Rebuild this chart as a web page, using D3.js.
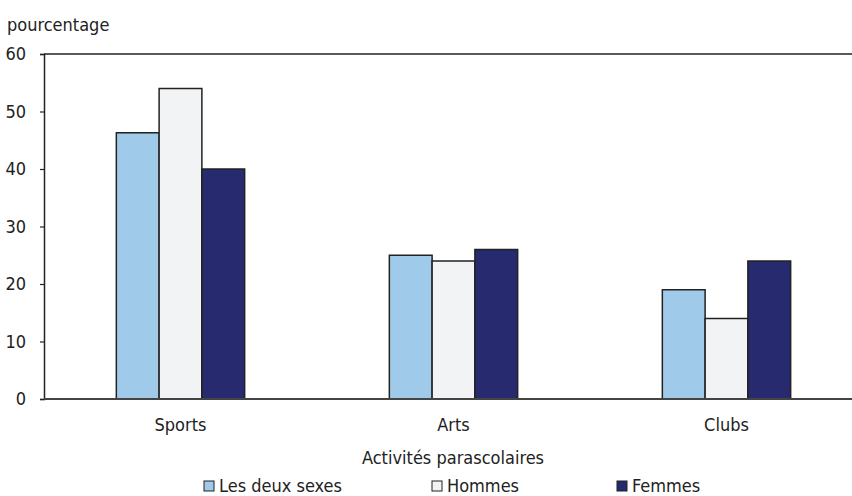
<!DOCTYPE html>
<html lang="fr">
<head>
<meta charset="UTF-8">
<title>Activités parascolaires</title>
<script src="https://d3js.org/d3.v7.min.js"></script>
<style>
    body { margin: 0; background: #fff; }
    text { font-family: "Liberation Sans Narrow", "DejaVu Sans Condensed", "Arial Narrow", sans-serif; fill: #222; }
</style>
</head>
<body>
<svg id="chart" width="852" height="496"></svg>
<script>
    // data
    const categories = ["Sports", "Arts", "Clubs"];
    const seriesNames = ["Les deux sexes", "Hommes", "Femmes"];
    const bothSexes = [46.3, 25, 19];
    const men = [54, 24, 14];
    const women = [40, 26, 24];
    const yTicks = [0, 10, 20, 30, 40, 50, 60];

    const colors = ["#9fcaea", "#f2f3f5", "#272a6f"];
    const series = [bothSexes, men, women];

    const svg = d3.select("#chart");
    const plotLeft = 44, plotRight = 863, plotTop = 54, plotBottom = 399;
    const fontSize = 18;

    const x = d3.scaleBand()
        .domain(categories)
        .range([plotLeft, plotRight])
        .paddingInner(0.53)
        .paddingOuter(0.265);

    const xs = d3.scaleBand()
        .domain(seriesNames)
        .range([0, x.bandwidth()]);

    const y = d3.scaleLinear()
        .domain([0, 60])
        .range([plotBottom, plotTop]);

    // frame top line
    svg.append("line")
        .attr("x1", plotLeft).attr("x2", 852)
        .attr("y1", plotTop).attr("y2", plotTop)
        .attr("stroke", "#222").attr("stroke-width", 1.5);

    // y axis
    const yAxis = svg.append("g")
        .attr("transform", `translate(${plotLeft},0)`)
        .call(d3.axisLeft(y).tickValues(yTicks).tickSize(4).tickPadding(14));
    yAxis.select(".domain").attr("stroke", "#222").attr("stroke-width", 1.5);
    yAxis.selectAll(".tick line").attr("stroke", "#222").attr("stroke-width", 1.2);
    yAxis.selectAll(".tick text")
        .style("font-family", "'Liberation Sans Narrow', 'DejaVu Sans Condensed', sans-serif")
        .attr("font-size", fontSize).attr("fill", "#222");

    // bars
    const groups = svg.append("g")
        .selectAll("g")
        .data(categories)
        .join("g")
        .attr("transform", d => `translate(${x(d)},0)`);

    groups.selectAll("rect")
        .data((d, i) => seriesNames.map((s, j) => ({ s: s, v: series[j][i], c: colors[j] })))
        .join("rect")
        .attr("x", d => xs(d.s))
        .attr("width", xs.bandwidth())
        .attr("y", d => y(d.v))
        .attr("height", d => y(0) - y(d.v))
        .attr("fill", d => d.c)
        .attr("stroke", "#222")
        .attr("stroke-width", 1.5);

    // baseline
    svg.append("line")
        .attr("x1", plotLeft).attr("x2", 852)
        .attr("y1", plotBottom).attr("y2", plotBottom)
        .attr("stroke", "#444").attr("stroke-width", 2);

    // category labels
    svg.append("g")
        .selectAll("text")
        .data(categories)
        .join("text")
        .attr("x", d => x(d) + x.bandwidth() / 2)
        .attr("y", 431)
        .attr("text-anchor", "middle")
        .attr("font-size", fontSize)
        .text(d => d);

    svg.append("text")
        .attr("x", 453).attr("y", 464)
        .attr("text-anchor", "middle")
        .attr("font-size", fontSize)
        .text("Activités parascolaires");

    svg.append("text")
        .attr("x", 7).attr("y", 31)
        .attr("font-size", fontSize)
        .text("pourcentage");

    // legend
    const legendX = [204, 432, 617];
    const legend = svg.append("g")
        .selectAll("g")
        .data(seriesNames)
        .join("g")
        .attr("transform", (d, i) => `translate(${legendX[i]},481)`);
    legend.append("rect")
        .attr("width", 10).attr("height", 10)
        .attr("fill", (d, i) => colors[i])
        .attr("stroke", "#222").attr("stroke-width", 1);
    legend.append("text")
        .attr("x", 15).attr("y", 10.5)
        .attr("font-size", fontSize)
        .text(d => d);
</script>
</body>
</html>
